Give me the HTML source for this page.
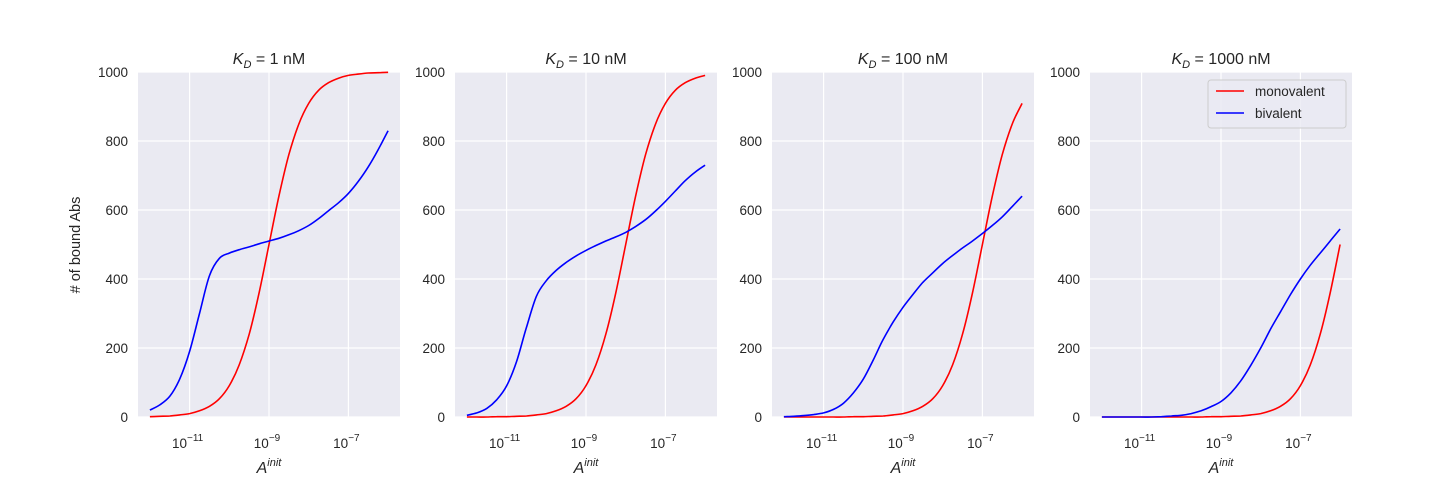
<!DOCTYPE html>
<html><head><meta charset="utf-8"><style>
body{margin:0;background:#fff;}
svg{display:block;font-family:"Liberation Sans","DejaVu Sans",sans-serif;}
</style></head><body>
<svg id="chart" width="1440" height="480"></svg>
<script>
const logX = [-12,-11.75,-11.5,-11.25,-11,-10.75,-10.5,-10.25,-10,-9.75,-9.5,-9.25,-9,-8.75,-8.5,-8.25,-8,-7.75,-7.5,-7.25,-7,-6.75,-6.5,-6.25,-6];
const titles = ["1","10","100","1000"];
const mono1 = [1,2,3,6,10,18,31,53,91,151,240,360,500,640,760,849,909,947,969,982,990,994,997,998,999];
const mono2 = [0,0,0,1,1,2,3,6,10,18,31,53,91,151,240,360,500,640,760,849,909,947,969,982,990];
const mono3 = [0,0,0,0,0,0,0,1,1,2,3,6,10,18,31,53,91,151,240,360,500,640,760,849,909];
const mono4 = [0,0,0,0,0,0,0,0,0,0,0,1,1,2,3,6,10,18,31,53,91,151,240,360,500];
const biv1 = [20,35,60,110,190,300,410,460,475,485,493,502,510,518,528,540,555,575,598,621,648,683,725,775,830];
const biv2 = [5,12,25,50,90,160,260,350,395,425,448,467,483,497,510,522,535,552,572,597,625,655,685,710,730];
const biv3 = [1,2,4,7,12,22,40,70,110,165,225,275,318,355,390,418,445,468,490,510,532,555,580,610,640];
const biv4 = [0,0,0,0,0,0,1,3,5,10,18,30,45,70,105,150,200,255,305,355,400,440,475,510,545];
const monoSeries=[mono1,mono2,mono3,mono4], bivSeries=[biv1,biv2,biv3,biv4];
const yTicks=[0,200,400,600,800,1000];
const xTicks=[-11,-9,-7];

const NS="http://www.w3.org/2000/svg";
const svg=document.getElementById('chart');
function mk(tag,attrs,parent){const e=document.createElementNS(NS,tag);for(const k in attrs)e.setAttribute(k,attrs[k]);(parent||svg).appendChild(e);return e;}
function smooth(pts){
  let d='M'+pts[0][0].toFixed(1)+','+pts[0][1].toFixed(1);
  for(let i=0;i<pts.length-1;i++){
    const p0=pts[Math.max(0,i-1)],p1=pts[i],p2=pts[i+1],p3=pts[Math.min(pts.length-1,i+2)];
    const c1x=p1[0]+(p2[0]-p0[0])/6,c1y=p1[1]+(p2[1]-p0[1])/6;
    const c2x=p2[0]-(p3[0]-p1[0])/6,c2y=p2[1]-(p3[1]-p1[1])/6;
    d+='C'+c1x.toFixed(1)+','+c1y.toFixed(1)+' '+c2x.toFixed(1)+','+c2y.toFixed(1)+' '+p2[0].toFixed(1)+','+p2[1].toFixed(1);
  }
  return d;
}
const lefts=[138,455,772,1090], W=262, topY=72, bot=417;
const xMin=-12.3, xMax=-5.7;
for(let p=0;p<4;p++){
  const L=lefts[p];
  const xs=v=>L+(v-xMin)/(xMax-xMin)*W;
  const ys=v=>bot-v/1000*(bot-topY);
  const g=mk('g',{});
  
  
  const bg=mk('rect',{x:L,y:topY,width:W,height:bot-topY,fill:'#eaeaf2'},g);
  
  
  yTicks.forEach(t=>{
    mk('line',{x1:L,x2:L+W,y1:ys(t),y2:ys(t),stroke:'#fff','stroke-width':1.2},g);
    const tx=mk('text',{x:L-10,y:ys(t)+5,'text-anchor':'end','font-size':13.5,fill:'#262626'},g);
    tx.textContent=t;
    
    
  });
  xTicks.forEach(t=>{
    mk('line',{x1:xs(t),x2:xs(t),y1:topY,y2:bot,stroke:'#fff','stroke-width':1.2},g);
    const tx=mk('text',{x:xs(t)-2,y:448,'text-anchor':'middle','font-size':13.5,fill:'#262626'},g);
    tx.innerHTML='10<tspan dy="-7" font-size="10">\u2212'+(-t)+'</tspan>';
    
    
  });
  const path=(arr,col,name)=>{
    const pts=arr.map((v,i)=>[xs(logX[i]),ys(v)]);
    const e=mk('path',{d:smooth(pts),fill:'none',stroke:col,'stroke-width':1.6,'stroke-linejoin':'round'},g);
    
    
  };
  path(monoSeries[p],'#ff0000','monovalent-line');
  path(bivSeries[p],'#0000ff','bivalent-line');
  const ti=mk('text',{x:L+W/2,y:64,'text-anchor':'middle','font-size':16,fill:'#262626'},g);
  ti.innerHTML='<tspan font-style="italic">K</tspan><tspan dy="4" font-size="11" font-style="italic">D</tspan><tspan dy="-4"> = '+titles[p]+' nM</tspan>';
  
  
  const xl=mk('text',{x:L+W/2,y:473,'text-anchor':'middle','font-size':16,fill:'#262626','font-style':'italic'},g);
  xl.innerHTML='A<tspan dy="-7" font-size="11">init</tspan>';
  
  
}
const yl=mk('text',{x:0,y:0,transform:'translate(80,245) rotate(-90)','text-anchor':'middle','font-size':14.5,fill:'#262626'});
yl.textContent='# of bound Abs';


const lg=mk('g',{});


mk('rect',{x:1208,y:80,width:138,height:48,rx:3,fill:'#eaeaf2','fill-opacity':0.8,stroke:'#cccccc'},lg);
[['monovalent','#ff0000',91],['bivalent','#0000ff',113]].forEach(([n,c,y])=>{
  mk('line',{x1:1216,x2:1244,y1:y,y2:y,stroke:c,'stroke-width':1.6},lg);
  const t=mk('text',{x:1255,y:y+5,'font-size':13.5,fill:'#262626'},lg);
  t.textContent=n;
  
  
});
</script>
</body></html>
